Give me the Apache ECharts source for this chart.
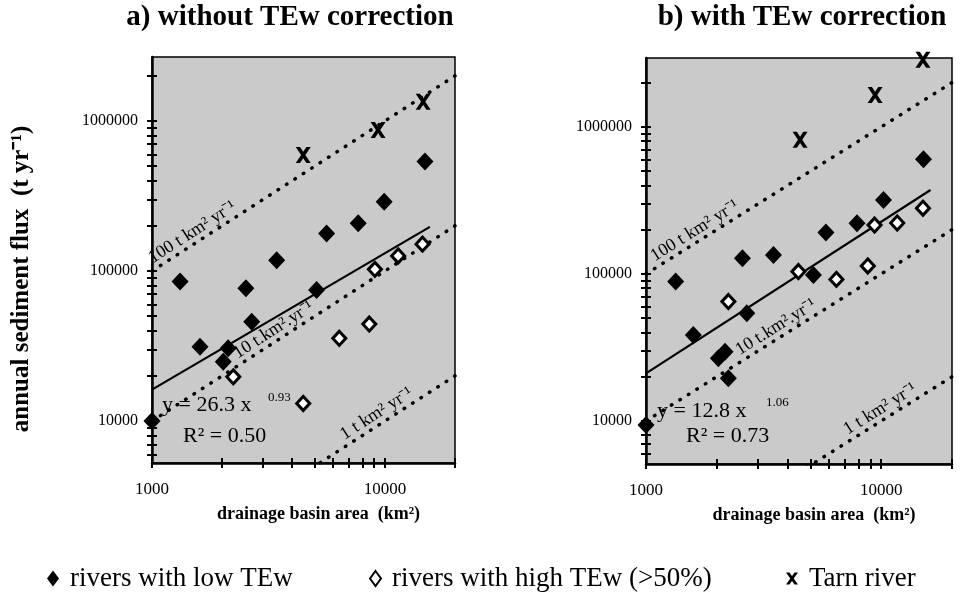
<!DOCTYPE html>
<html>
<head>
<meta charset="utf-8">
<script src="https://cdn.jsdelivr.net/npm/echarts@6/dist/echarts.min.js"></script>
<style>
    html, body { margin: 0; padding: 0; background: #fff; }
    #chart { width: 966px; height: 596px; }
</style>
</head>
<body>
<div id="chart"></div>
<script>
var serif = '"Liberation Serif", "Times New Roman", serif';

// a) without TEw correction
var lowA = [[1000, 10000], [1320, 85000], [1607, 31300], [2023, 24800], [2123, 30500], [2530, 76700],
    [2680, 45900], [3430, 118000], [5090, 74700], [5620, 178000], [7680, 208000], [9930, 290000], [14860, 536000]];
var highA = [[2234, 19700], [4460, 13100], [6370, 35600], [8570, 44300], [9060, 102600], [11400, 126000], [14500, 151000]];
var tarnA = [[4460, 593000], [9350, 871000], [14600, 1346000]];
var fitA = [[1000, 16200], [15600, 197000]];

// b) with TEw correction
var lowB = [[1000, 9400], [1337, 88700], [1589, 38500], [2031, 26700], [2168, 29600], [2240, 19500], [2570, 128000],
    [2683, 54100], [3483, 134600], [5150, 98400], [5820, 191000], [7890, 221000], [10230, 318000], [15130, 603000]];
var highB = [[2240, 64900], [4446, 103800], [6450, 91800], [8770, 113300], [9370, 215000], [11700, 222000], [15050, 280000]];
var tarnB = [[4520, 816000], [9420, 1650000], [15050, 2860000]];
var fitB = [[1000, 21100], [16200, 372000]];

// specific yield lines (t km-2 yr-1)
var rates = [100, 10, 1];
var rateText = ["100 t km\u00b2 yr\u207b\u00b9", "10 t.km\u00b2.yr\u207b\u00b9", "1 t km\u00b2 yr\u207b\u00b9"];
var rateStartA = [1030, 2390, 6870];
var rateStartB = [1114, 2560, 7370];

var xRange = [1000, 20000];
var yRangeA = [5250, 2670000];
var yRangeB = [5100, 2940000];
var xTicks = [1000, 2000, 3000, 4000, 5000, 6000, 7000, 8000, 9000, 10000, 20000];
var xLabels = [1000, 10000];
var yTicks = [6000, 7000, 8000, 9000, 10000, 20000, 30000, 40000, 50000, 60000, 70000, 80000, 90000,
    100000, 200000, 300000, 400000, 500000, 600000, 700000, 800000, 900000, 1000000, 2000000];
var yLabels = [10000, 100000, 1000000];

var titles = ["a) without TEw correction", "b) with TEw correction"];
var legendNames = ["rivers with low TEw", "rivers with high TEw (>50%)", "Tarn river"];
var crossPath = "path://M0,0h4l3,4.2l3,-4.2h4l-5,7l5,7h-4l-3,-4.2l-3,4.2h-4l5,-7z";

var chart = echarts.init(document.getElementById("chart"));

function xAxis(grid, inner) {
    return {
        type: "log", logBase: 10, gridIndex: grid, min: xRange[0], max: xRange[1], position: "bottom",
        axisLine: { show: !inner, lineStyle: { color: "#000", width: 2.5 } },
        axisTick: { show: true, inside: inner, length: 5, customValues: xTicks, lineStyle: { color: "#000", width: 2 } },
        axisLabel: {
            show: !inner, customValues: xLabels, margin: 18, color: "#000", fontFamily: serif, fontSize: 17,
            formatter: function (v) { return String(Math.round(v)); }
        },
        splitLine: { show: false },
        name: inner ? "" : "drainage basin area  (km\u00b2)", nameLocation: "middle", nameGap: 42,
        nameTextStyle: { color: "#000", fontFamily: serif, fontSize: 18, fontWeight: "bold", padding: [0, 0, 0, 30] }
    };
}

function yAxis(grid, inner, range) {
    return {
        type: "log", logBase: 10, gridIndex: grid, min: range[0], max: range[1], position: "left",
        axisLine: { show: !inner, lineStyle: { color: "#000", width: 2.5 } },
        axisTick: { show: true, inside: inner, length: 5, customValues: yTicks, lineStyle: { color: "#000", width: 2 } },
        axisLabel: {
            show: !inner, customValues: yLabels, margin: 14, color: "#000", fontFamily: serif, fontSize: 16,
            formatter: function (v) { return String(Math.round(v)); }
        },
        splitLine: { show: false }
    };
}

function panelSeries(p, low, high, tarn, fit) {
    var list = [];
    rates.forEach(function (r) {
        list.push({
            type: "line", xAxisIndex: p * 2, yAxisIndex: p * 2, symbol: "none", silent: true, clip: true,
            data: [[xRange[0], xRange[0] * r], [xRange[1], xRange[1] * r]],
            lineStyle: { color: "#000", width: 3.5, type: [0.5, 9.5], cap: "round" }, z: 2
        });
    });
    list.push({
        type: "line", xAxisIndex: p * 2, yAxisIndex: p * 2, symbol: "none", silent: true, data: fit,
        lineStyle: { color: "#000", width: 2.2 }, z: 3
    });
    list.push({
        name: legendNames[0], type: "scatter", xAxisIndex: p * 2, yAxisIndex: p * 2, data: low,
        symbol: "diamond", symbolSize: [17, 18], itemStyle: { color: "#000", opacity: 1 }, z: 4
    });
    list.push({
        name: legendNames[1], type: "scatter", xAxisIndex: p * 2, yAxisIndex: p * 2, data: high,
        symbol: "diamond", symbolSize: [13, 14], itemStyle: { color: "#fff", borderColor: "#000", borderWidth: 3, opacity: 1 }, z: 5
    });
    list.push({
        name: legendNames[2], type: "scatter", xAxisIndex: p * 2, yAxisIndex: p * 2, data: tarn,
        symbol: crossPath, symbolSize: [15, 16], itemStyle: { color: "#000", opacity: 1 }, z: 5
    });
    return list;
}

function legend(left, name, icon, style, w, h) {
    return {
        left: left, top: 560, selectedMode: false, itemWidth: w, itemHeight: h,
        data: [{ name: name, icon: icon, itemStyle: style }],
        textStyle: { color: "#000", fontFamily: serif, fontSize: 27, padding: [0, 0, 0, 6] }
    };
}

var option = {
    backgroundColor: "#fff",
    animation: false,
    grid: [
        { left: 152, top: 57, width: 303, height: 406, show: true, backgroundColor: "#cacaca", borderColor: "#000", borderWidth: 1.5 },
        { left: 646, top: 58, width: 306, height: 406, show: true, backgroundColor: "#cacaca", borderColor: "#000", borderWidth: 1.5 }
    ],
    xAxis: [xAxis(0, false), xAxis(0, true), xAxis(1, false), xAxis(1, true)],
    yAxis: [yAxis(0, false, yRangeA), yAxis(0, true, yRangeA), yAxis(1, false, yRangeB), yAxis(1, true, yRangeB)],
    legend: [
        legend(42, legendNames[0], "diamond", { color: "#000" }, 12, 16),
        legend(364, legendNames[1], "diamond", { color: "#fff", borderColor: "#000", borderWidth: 2 }, 11, 15),
        legend(781, legendNames[2], crossPath, { color: "#000" }, 12, 13)
    ],
    series: panelSeries(0, lowA, highA, tarnA, fitA).concat(panelSeries(1, lowB, highB, tarnB, fitB))
};
chart.setOption(option);

// annotations placed from data coordinates
function px(p, pt) {
    return chart.convertToPixel({ xAxisIndex: p * 2, yAxisIndex: p * 2 }, pt);
}
function txt(x, y, s, size, opts) {
    var o = opts || {};
    return {
        type: "text", x: x, y: y, rotation: o.rotation || 0, z: 20, silent: true,
        style: {
            text: s, fill: "#000", font: (o.bold ? "bold " : "") + size + "px " + serif,
            align: o.align || "left", verticalAlign: o.va || "middle"
        }
    };
}
var graphics = [];
[rateStartA, rateStartB].forEach(function (starts, p) {
    rates.forEach(function (r, i) {
        var a = px(p, [starts[i], starts[i] * r]);
        var b = px(p, [starts[i] * 4, starts[i] * 4 * r]);
        var ang = Math.atan2(a[1] - b[1], b[0] - a[0]);
        graphics.push(txt(a[0], a[1] - 2, rateText[i], 18, { rotation: ang, va: "bottom" }));
    });
});
graphics.push(txt(290, 18, titles[0], 29, { bold: true, align: "center" }));
graphics.push(txt(802, 18, titles[1], 29, { bold: true, align: "center" }));
graphics.push(txt(22, 279, "annual sediment flux  (t yr\u207b\u00b9)", 25, { bold: true, align: "center", rotation: Math.PI / 2 }));
graphics.push(txt(162, 405, "y = 26.3 x", 22));
graphics.push(txt(268, 398, "0.93", 13));
graphics.push(txt(183, 436, "R\u00b2 = 0.50", 22));
graphics.push(txt(657, 411, "y = 12.8 x", 22));
graphics.push(txt(766, 403, "1.06", 13));
graphics.push(txt(686, 436, "R\u00b2 = 0.73", 22));
chart.setOption({ graphic: graphics });
</script>
</body>
</html>
